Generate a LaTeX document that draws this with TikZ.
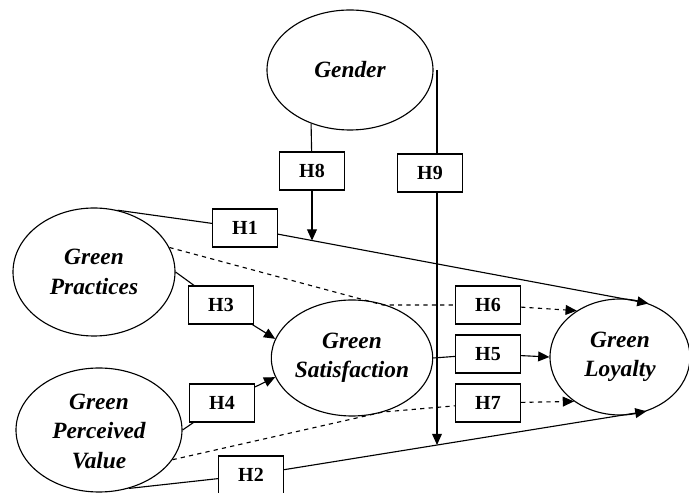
\documentclass[tikz,border=0pt]{standalone}
\usepackage{fontspec}
\setmainfont{Liberation Serif}
\usetikzlibrary{shapes.geometric, arrows.meta}

\begin{document}
\begin{tikzpicture}[
        construct/.style={draw, thick, ellipse, inner sep=0pt, align=center,
            font=\fontsize{16.6}{21}\selectfont\bfseries\itshape},
        hypo/.style={draw, thick, fill=white, minimum width=1.625cm, minimum height=0.95cm,
            inner sep=0pt, font=\fontsize{14.2}{17}\selectfont\bfseries},
        link/.style={thick, -{Triangle[length=8pt,width=7pt]}},
        medlink/.style={thick, dashed, -{Triangle[length=8pt,width=7pt]}}
    ]
        \useasboundingbox (0,0) rectangle (17.225,12.325);

        % Constructs
        \node[construct, minimum width=4.15cm, minimum height=3cm] (Gender) at (8.75,10.575) {Gender};
        \node[construct, minimum width=4.05cm, minimum height=3.2cm] (GP) at (2.35,5.525) {Green\\Practices};
        \node[construct, minimum width=4.15cm, minimum height=3.1cm] (GPV) at (2.475,1.575) {\\[-0.3cm]Green\\Perceived\\Value};
        \node[construct, minimum width=3.75cm, minimum height=2.9cm] (GS) at (8.8,3.375) {Green\\Satisfaction};
        \node[construct, minimum width=3.5cm, minimum height=2.9cm] (GL) at (15.5,3.4) {Green\\Loyalty};

        % Hypotheses
        \node[hypo] (H1) at (6.125,6.625) {H1};
        \node[hypo] (H2) at (6.275,0.45) {H2};
        \node[hypo] (H3) at (5.525,4.7) {H3};
        \node[hypo] (H4) at (5.55,2.25) {H4};
        \node[hypo] (H5) at (12.2,3.475) {H5};
        \node[hypo] (H6) at (12.2,4.7) {H6};
        \node[hypo] (H7) at (12.2,2.25) {H7};
        \node[hypo] (H8) at (7.8,8.05) {H8};
        \node[hypo] (H9) at (10.75,8.0) {H9};

        % Points on the paths
        \coordinate (m8) at (7.8,6.31);
        \coordinate (g9) at (10.925,10.575);
        \coordinate (m9) at (10.925,1.2);
        \coordinate (b6) at (9.575,4.7);
        \coordinate (b7) at (9.575,2.025);

        % Direct effects
        \draw[thick] (GP.69) -- (H1);
        \draw[link] (H1) -- (GL.62);
        \draw[thick] (GPV.297) -- (H2);
        \draw[link] (H2) -- (GL.296);
        \draw[thick] (GP.east) -- (H3);
        \draw[link] (H3) -- (GS.166);
        \draw[thick] (GPV.east) -- (H4);
        \draw[link] (H4) -- (GS.194);
        \draw[thick] (GS.east) -- (H5);
        \draw[link] (H5) -- (GL.west);

        % Mediation
        \draw[thick, dashed] (GP.18) -- (b6) -- (H6);
        \draw[medlink] (H6) -- (GL.133);
        \draw[thick, dashed] (GPV.338) -- (b7) -- (H7);
        \draw[medlink] (H7) -- (GL.224);

        % Moderation
        \draw[thick] (Gender.234) -- (H8);
        \draw[link] (H8) -- (m8);
        \draw[thick] (g9) -- (g9 |- H9.north);
        \draw[link] (g9 |- H9.south) -- (m9);
    \end{tikzpicture}
\end{document}
